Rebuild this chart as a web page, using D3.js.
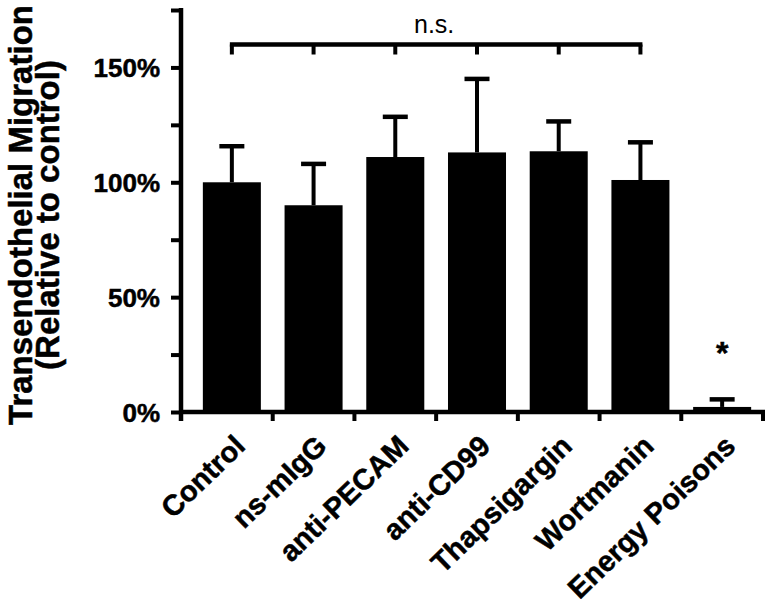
<!DOCTYPE html>
<html>
<head>
<meta charset="utf-8">
<script src="https://cdn.jsdelivr.net/npm/d3@7"></script>
<style>
  html, body { margin: 0; padding: 0; background: #fff; }
  svg { display: block; }
  text { font-family: "Liberation Sans", Arial, Helvetica, sans-serif; }
  .bold { font-weight: bold; stroke: #000; stroke-width: 0.5px; }
</style>
</head>
<body>
<svg id="chart" width="773" height="608"></svg>
<script>
const categories = ["Control", "ns-mIgG", "anti-PECAM", "anti-CD99", "Thapsigargin", "Wortmanin", "Energy Poisons"];
const means = [100, 90, 111, 113, 113.5, 101, 2.2];
const errTops = [115.7, 108, 128.5, 145, 126.5, 117.4, 5.5];
const yTickValues = [0, 25, 50, 75, 100, 125, 150, 175];
const yTickLabels = ["0%", "", "50%", "", "100%", "", "150%", ""];
const bracketGroups = ["Control", "ns-mIgG", "anti-PECAM", "anti-CD99", "Thapsigargin", "Wortmanin"];
const bracketLabel = "n.s.";
const starGroup = "Energy Poisons";
const starLabel = "*";
const yTitleLines = ["Transendothelial Migration", "(Relative to control)"];

const svg = d3.select("#chart");
const axisX = 181, axisY = 412;

const x = d3.scaleBand().domain(categories).range([191, 763]).paddingInner(0.29).paddingOuter(0.145);
const y = d3.scaleLinear().domain([0, 175]).range([axisY, 10]);

// bars
svg.append("g").selectAll("rect").data(categories).join("rect")
  .attr("x", d => x(d))
  .attr("width", x.bandwidth())
  .attr("y", (d, i) => y(means[i]))
  .attr("height", (d, i) => axisY - y(means[i]))
  .attr("fill", "#000");

// error bars
const capW = 25;
const eg = svg.append("g").attr("stroke", "#000");
categories.forEach((c, i) => {
  const cx = x(c) + x.bandwidth() / 2;
  eg.append("line").attr("x1", cx).attr("x2", cx).attr("y1", y(means[i])).attr("y2", y(errTops[i])).attr("stroke-width", 4);
  eg.append("line").attr("x1", cx - capW / 2).attr("x2", cx + capW / 2).attr("y1", y(errTops[i])).attr("y2", y(errTops[i])).attr("stroke-width", 4.5);
});

// y axis
const yAxis = d3.axisLeft(y).tickValues(yTickValues).tickSize(10).tickPadding(11)
  .tickFormat((d, i) => yTickLabels[i]);
const yg = svg.append("g").attr("transform", `translate(${axisX},0)`).call(yAxis);
yg.select(".domain").remove();
yg.selectAll(".tick line").attr("stroke", "#000").attr("stroke-width", 4);
yg.selectAll(".tick text").attr("fill", "#000").attr("class", "bold").style("font-size", "26px")
  .attr("dy", "0.36em");
svg.append("line").attr("x1", axisX).attr("x2", axisX).attr("y1", y(175) - 2).attr("y2", axisY + 9)
  .attr("stroke", "#000").attr("stroke-width", 4.5);

// x axis
svg.append("line").attr("x1", axisX - 2).attr("x2", 765).attr("y1", axisY).attr("y2", axisY)
  .attr("stroke", "#000").attr("stroke-width", 4.5);
const step = x.step();
svg.append("g").selectAll("line").data(categories).join("line")
  .attr("x1", d => x(d) + x.bandwidth() / 2 + step / 2)
  .attr("x2", d => x(d) + x.bandwidth() / 2 + step / 2)
  .attr("y1", axisY).attr("y2", axisY + 9)
  .attr("stroke", "#000").attr("stroke-width", 4);

// x labels
svg.append("g").selectAll("text").data(categories).join("text")
  .attr("transform", d => `translate(${x(d) + x.bandwidth() / 2 + 15},448) rotate(-44)`)
  .attr("text-anchor", "end")
  .attr("class", "bold")
  .style("font-size", "29px")
  .text(d => d);

// y title
const yt = svg.append("text")
  .attr("transform", `translate(0,215) rotate(-90)`)
  .attr("text-anchor", "middle")
  .attr("class", "bold")
  .style("font-size", "33px");
yt.append("tspan").attr("x", 0).attr("y", 32).text(yTitleLines[0]);
yt.append("tspan").attr("x", 0).attr("y", 59).text(yTitleLines[1]);

// significance bracket
const bx = bracketGroups.map(c => x(c) + x.bandwidth() / 2);
const by = 44.5;
svg.append("line").attr("x1", d3.min(bx) - 2).attr("x2", d3.max(bx) + 2).attr("y1", by).attr("y2", by)
  .attr("stroke", "#000").attr("stroke-width", 4.5);
svg.append("g").selectAll("line").data(bx).join("line")
  .attr("x1", d => d).attr("x2", d => d).attr("y1", by).attr("y2", by + 10)
  .attr("stroke", "#000").attr("stroke-width", 4);
svg.append("text").attr("x", (d3.min(bx) + d3.max(bx)) / 2 - 2).attr("y", 33)
  .attr("text-anchor", "middle").style("font-size", "25px").text(bracketLabel);

// star
svg.append("text").attr("x", x(starGroup) + x.bandwidth() / 2).attr("y", 364)
  .attr("text-anchor", "middle").attr("class", "bold").style("font-size", "32px").text(starLabel);
</script>
</body>
</html>
